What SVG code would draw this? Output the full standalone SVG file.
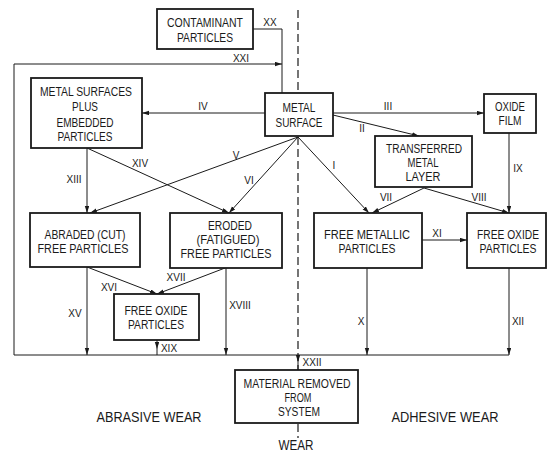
<svg xmlns="http://www.w3.org/2000/svg" width="548" height="452" viewBox="0 0 548 452">
<defs>
<marker id="ah" markerUnits="userSpaceOnUse" markerWidth="8" markerHeight="5" refX="7" refY="2.2" orient="auto">
<path d="M0,0 L7,2.2 L0,4.4 z" fill="#1a1a1a"/>
</marker>
<style>
.box{fill:#fff;stroke:#1a1a1a;stroke-width:1.8}
.t{font-family:"Liberation Sans",Arial,sans-serif;font-size:12.5px;fill:#1a1a1a;text-anchor:middle}
.lab{font-family:"Liberation Sans",Arial,sans-serif;font-size:10px;fill:#1a1a1a;text-anchor:middle}
.big{font-family:"Liberation Sans",Arial,sans-serif;font-size:14px;fill:#1a1a1a;text-anchor:middle}
.c{fill:none;stroke:#1a1a1a;stroke-width:1}
.a{fill:none;stroke:#1a1a1a;stroke-width:1;marker-end:url(#ah)}
.dash{fill:none;stroke:#1a1a1a;stroke-width:1.2;stroke-dasharray:8 4}
</style>
</defs>
<rect width="548" height="452" fill="#fff"/>

<g id="divider">
<path class="dash" d="M298,10 V93"/>
<path class="dash" d="M298,137 V370"/>
<path class="dash" d="M298,424 V438"/>
</g>

<g id="connectors">
<path class="c" d="M253,29 H282 V93"/>
<path class="a" d="M14,355 V64 H282"/>
<path class="c" d="M14,355 H509"/>
<path class="a" d="M265,113 H142"/>
<path class="a" d="M333,113 H484"/>
<path class="a" d="M333,115 L419,136"/>
<path class="a" d="M509,133 V213"/>
<path class="a" d="M424,188 L372,213"/>
<path class="a" d="M424,188 L509,213"/>
<path class="a" d="M298,137 L369,213"/>
<path class="a" d="M298,137 L90,213"/>
<path class="a" d="M298,137 L229,213"/>
<path class="a" d="M87,148 V213"/>
<path class="a" d="M87,148 L229,213"/>
<path class="a" d="M422,240 H467"/>
<path class="a" d="M87,267 L157,294"/>
<path class="a" d="M225,268 L157,294"/>
<path class="a" d="M87,267 V355"/>
<path class="a" d="M226,268 V355"/>
<path class="a" d="M367,268 V355"/>
<path class="a" d="M509,268 V355"/>
<path class="a" d="M157,340 V349"/>
<path class="c" d="M157,349 V355"/>
<path class="a" d="M298,355 V362"/>
<path class="c" d="M298,362 V370"/>
</g>

<g id="connector-labels">
<text class="lab" x="270" y="26">XX</text>
<text class="lab" x="241" y="62">XXI</text>
<text class="lab" x="203" y="110">IV</text>
<text class="lab" x="388" y="110">III</text>
<text class="lab" x="362" y="132">II</text>
<text class="lab" x="518" y="172">IX</text>
<text class="lab" x="334" y="169">I</text>
<text class="lab" x="236" y="159">V</text>
<text class="lab" x="249" y="184">VI</text>
<text class="lab" x="74" y="183">XIII</text>
<text class="lab" x="140" y="167">XIV</text>
<text class="lab" x="386" y="201">VII</text>
<text class="lab" x="479" y="201">VIII</text>
<text class="lab" x="437" y="237">XI</text>
<text class="lab" x="109" y="291">XVI</text>
<text class="lab" x="176" y="281">XVII</text>
<text class="lab" x="75" y="317">XV</text>
<text class="lab" x="240" y="309">XVIII</text>
<text class="lab" x="169" y="352">XIX</text>
<text class="lab" x="361" y="325">X</text>
<text class="lab" x="518" y="325">XII</text>
<text class="lab" x="312" y="366">XXII</text>
</g>

<g id="contaminant">
<rect class="box" x="157" y="9" width="96" height="40"/>
<text class="t" x="205" y="27" textLength="76" lengthAdjust="spacingAndGlyphs">CONTAMINANT</text>
<text class="t" x="205" y="42" textLength="56" lengthAdjust="spacingAndGlyphs">PARTICLES</text>
</g>

<g id="metal-surfaces-embedded">
<rect class="box" x="31" y="78" width="111" height="70"/>
<text class="t" x="86" y="96" textLength="92" lengthAdjust="spacingAndGlyphs">METAL SURFACES</text>
<text class="t" x="85" y="111" textLength="26" lengthAdjust="spacingAndGlyphs">PLUS</text>
<text class="t" x="85" y="127" textLength="57" lengthAdjust="spacingAndGlyphs">EMBEDDED</text>
<text class="t" x="85" y="141" textLength="55" lengthAdjust="spacingAndGlyphs">PARTICLES</text>
</g>

<g id="metal-surface">
<rect class="box" x="265" y="93" width="68" height="43"/>
<text class="t" x="299" y="112" textLength="33" lengthAdjust="spacingAndGlyphs">METAL</text>
<text class="t" x="299" y="127" textLength="47" lengthAdjust="spacingAndGlyphs">SURFACE</text>
</g>

<g id="oxide-film">
<rect class="box" x="484" y="94" width="52" height="39"/>
<text class="t" x="510" y="111" textLength="30" lengthAdjust="spacingAndGlyphs">OXIDE</text>
<text class="t" x="510" y="125" textLength="23" lengthAdjust="spacingAndGlyphs">FILM</text>
</g>

<g id="transferred-metal-layer">
<rect class="box" x="375" y="136" width="97" height="51"/>
<text class="t" x="424" y="153" textLength="76" lengthAdjust="spacingAndGlyphs">TRANSFERRED</text>
<text class="t" x="423" y="167" textLength="31" lengthAdjust="spacingAndGlyphs">METAL</text>
<text class="t" x="423" y="181" textLength="35" lengthAdjust="spacingAndGlyphs">LAYER</text>
</g>

<g id="free-metallic-particles">
<rect class="box" x="314" y="213" width="108" height="55"/>
<text class="t" x="367" y="239" textLength="86" lengthAdjust="spacingAndGlyphs">FREE METALLIC</text>
<text class="t" x="367" y="253" textLength="57" lengthAdjust="spacingAndGlyphs">PARTICLES</text>
</g>

<g id="free-oxide-particles-right">
<rect class="box" x="467" y="213" width="79" height="55"/>
<text class="t" x="508" y="239" textLength="62" lengthAdjust="spacingAndGlyphs">FREE OXIDE</text>
<text class="t" x="508" y="253" textLength="57" lengthAdjust="spacingAndGlyphs">PARTICLES</text>
</g>

<g id="abraded-particles">
<rect class="box" x="30" y="213" width="110" height="54"/>
<text class="t" x="85" y="239" textLength="81" lengthAdjust="spacingAndGlyphs">ABRADED (CUT)</text>
<text class="t" x="83" y="253" textLength="91" lengthAdjust="spacingAndGlyphs">FREE PARTICLES</text>
</g>

<g id="eroded-particles">
<rect class="box" x="170" y="213" width="112" height="55"/>
<text class="t" x="230" y="230" textLength="44" lengthAdjust="spacingAndGlyphs">ERODED</text>
<text class="t" x="228" y="244" textLength="63" lengthAdjust="spacingAndGlyphs">(FATIGUED)</text>
<text class="t" x="226" y="258" textLength="91" lengthAdjust="spacingAndGlyphs">FREE PARTICLES</text>
</g>

<g id="free-oxide-particles-left">
<rect class="box" x="114" y="294" width="85" height="46"/>
<text class="t" x="156" y="315" textLength="63" lengthAdjust="spacingAndGlyphs">FREE OXIDE</text>
<text class="t" x="156" y="329" textLength="56" lengthAdjust="spacingAndGlyphs">PARTICLES</text>
</g>

<g id="material-removed">
<rect class="box" x="235" y="370" width="123" height="53"/>
<text class="t" x="297" y="388" textLength="107" lengthAdjust="spacingAndGlyphs">MATERIAL REMOVED</text>
<text class="t" x="298" y="402" textLength="27" lengthAdjust="spacingAndGlyphs">FROM</text>
<text class="t" x="299" y="416" textLength="42" lengthAdjust="spacingAndGlyphs">SYSTEM</text>
</g>

<g id="region-labels">
<text class="big" x="149" y="422" textLength="105" lengthAdjust="spacingAndGlyphs">ABRASIVE WEAR</text>
<text class="big" x="445" y="422" textLength="107" lengthAdjust="spacingAndGlyphs">ADHESIVE WEAR</text>
<text class="big" x="296" y="450" textLength="35" lengthAdjust="spacingAndGlyphs">WEAR</text>
</g>
</svg>
